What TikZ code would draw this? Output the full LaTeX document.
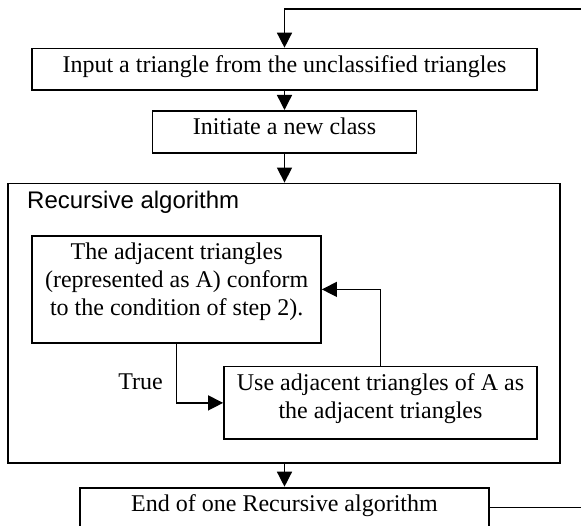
\documentclass[tikz,border=0pt]{standalone}
\usepackage{fontspec}
\setmainfont{Liberation Serif}
\newfontfamily\arialfont{Liberation Sans}
\usetikzlibrary{arrows.meta}
\newcommand\toppad{\rule{0pt}{24pt}}
\newcommand\botpad[1]{\rule[-#1pt]{0pt}{#1pt}}
\tikzset{
  box/.style={draw, line width=1.8pt, inner sep=0pt, align=center,
    font=\fontsize{24}{28}\selectfont, anchor=north},
  frame/.style={draw, line width=1.8pt, inner sep=0pt},
  lbl/.style={inner sep=0pt, font=\fontsize{24}{28}\selectfont},
  arr/.style={line width=1.4pt, -{Triangle[length=15pt,width=15pt]}},
}
\begin{document}
\begin{tikzpicture}[x=1pt,y=-1pt]
\useasboundingbox (0,0) rectangle (581,526);
\node[box, minimum width=505pt] (in) at (284.5,47.7)
  {\toppad Input a triangle from the unclassified triangles\botpad{17.3}};
\node[box, minimum width=264pt] (init) at (284.5,110)
  {\toppad Initiate a new class\botpad{18}};
\node[frame, minimum width=552pt, minimum height=279.5pt] (rec) at (284,323.25) {};
\node[lbl, font=\arialfont\fontsize{24}{28}\selectfont, anchor=base west] (reclbl) at (27,209) {Recursive algorithm};
\node[box, minimum width=288.7pt] (cond) at (176.65,235)
  {\toppad The adjacent triangles\\(represented as A) conform\\to the condition of step 2).\botpad{27}};
\node[box, minimum width=313pt] (use) at (380.5,365.7)
  {\toppad Use adjacent triangles of A as\\the adjacent triangles\botpad{20.6}};
\node[box, minimum width=409pt] (end) at (284.5,486.7)
  {\toppad End of one Recursive algorithm\botpad{16}};
\node[lbl, anchor=base east] (true) at (163,390) {True};
\coordinate (back) at (592,9);
\draw[arr] (in.south) -- (init.north);
\draw[arr] (init.south) -- (init.south |- rec.north);
\draw[arr] (end.north |- rec.south) -- (end.north);
\draw[arr] (cond.south) |- (use.west);
\draw[arr] (use.north) |- (cond.east);
\draw[arr] (end.east) -| (back) -| (in.north);
\end{tikzpicture}
\end{document}
